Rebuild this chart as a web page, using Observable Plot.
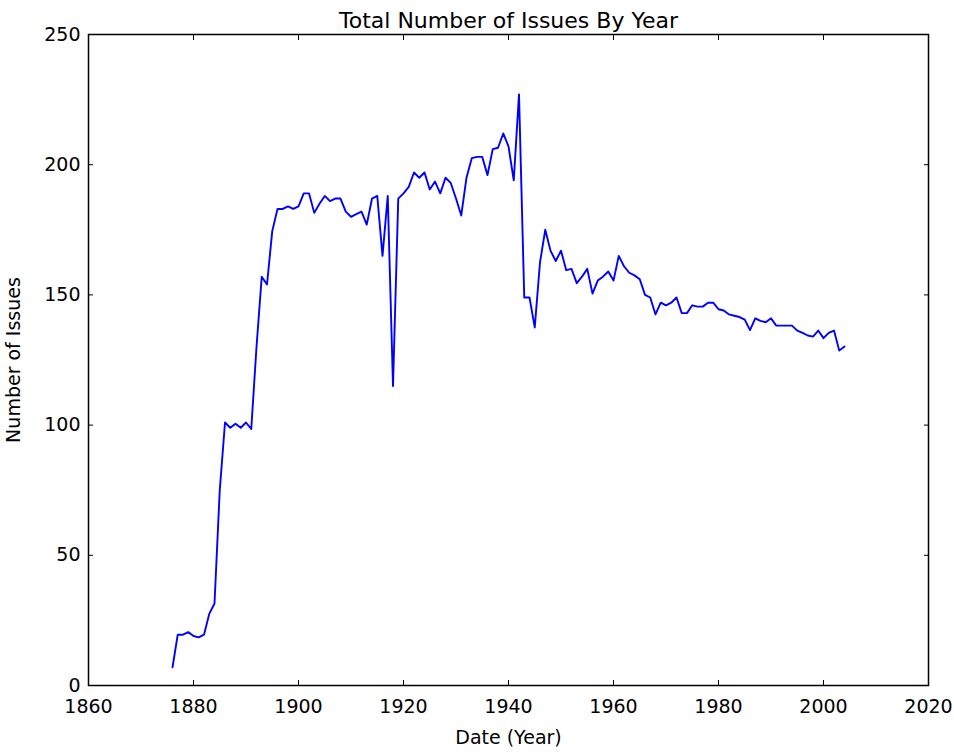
<!DOCTYPE html>
<html>
<head>
<meta charset="utf-8">
<script src="https://cdn.jsdelivr.net/npm/d3@7"></script>
<script src="https://cdn.jsdelivr.net/npm/@observablehq/plot@0.6"></script>
<style>
  html, body { margin: 0; padding: 0; background: #fff; }
  #chart svg { display: block; }
</style>
</head>
<body>
<div id="chart"></div>
<script>
const years = d3.range(1876, 2005);
const issues = [
  7, 19.5, 19.5, 20.5, 19, 18.5, 19.5, 27.5, 31.5, 75,          // 1876-1885
  101, 99, 100.5, 99, 101, 98.5, 130, 157, 154, 174.5,          // 1886-1895
  183, 183, 184, 183, 184, 189, 189, 181.5, 185, 188,           // 1896-1905
  186, 187, 187, 182, 180, 181, 182, 177, 187, 188,             // 1906-1915
  165, 188, 115, 187, 189, 191.5, 197, 195, 197, 190.5,         // 1916-1925
  193.5, 189, 195, 193, 187, 180.5, 195, 202.5, 203, 203,       // 1926-1935
  196, 206, 206.5, 212, 207, 194, 227, 149, 149, 137.5,         // 1936-1945
  162.5, 175, 167, 163, 167, 159.5, 160, 154.5, 157, 160,       // 1946-1955
  150.5, 155.5, 157, 159, 155.5, 165, 161, 158.5, 157.5, 156,   // 1956-1965
  150, 149, 142.5, 147, 146, 147, 149, 143, 143, 146,           // 1966-1975
  145.5, 145.5, 147, 147, 144.5, 144, 142.5, 142, 141.5, 140.5, // 1976-1985
  136.5, 141, 140, 139.5, 141, 138.2, 138.2, 138.2, 138.2, 136.3, // 1986-1995
  135.4, 134.4, 134, 136.3, 133.4, 135.4, 136.3, 128.6, 130.2   // 1996-2004
];
const xTicks = [1860, 1880, 1900, 1920, 1940, 1960, 1980, 2000, 2020];
const yTicks = [0, 50, 100, 150, 200, 250];
const titleText = "Total Number of Issues By Year";
const xLabel = "Date (Year)";
const yLabel = "Number of Issues";

const data = years.map((y, i) => ({year: y, value: issues[i]}));

const chart = Plot.plot({
  width: 954,
  height: 752,
  marginLeft: 88,
  marginRight: 26,
  marginTop: 34,
  marginBottom: 67,
  style: {fontFamily: "DejaVu Sans", fontSize: "19px", color: "#000", background: "#fff"},
  x: {domain: [1860, 2020]},
  y: {domain: [0, 250]},
  marks: [
    Plot.line(data, {x: "year", y: "value", stroke: "#0000ff", strokeWidth: 1.9}),
    Plot.axisX({anchor: "bottom", ticks: xTicks, tickSize: -5, tickPadding: 19, tickFormat: d => String(d),
      label: xLabel, labelAnchor: "center", labelOffset: 58, labelArrow: "none"}),
    Plot.axisX({anchor: "top", ticks: xTicks, tickSize: -5, tickFormat: () => "", label: null}),
    Plot.axisY({anchor: "left", ticks: yTicks, tickSize: -5, tickPadding: 13, tickFormat: d => String(d),
      label: yLabel, labelAnchor: "center", labelOffset: 82, labelArrow: "none"}),
    Plot.axisY({anchor: "right", ticks: yTicks, tickSize: -5, tickFormat: () => "", label: null}),
    Plot.frame({stroke: "#000", strokeWidth: 1.5}),
    Plot.text([titleText], {frameAnchor: "top", dy: -7, lineAnchor: "bottom", fontSize: 22, text: d => d})
  ]
});
document.getElementById("chart").appendChild(chart);
</script>
</body>
</html>
